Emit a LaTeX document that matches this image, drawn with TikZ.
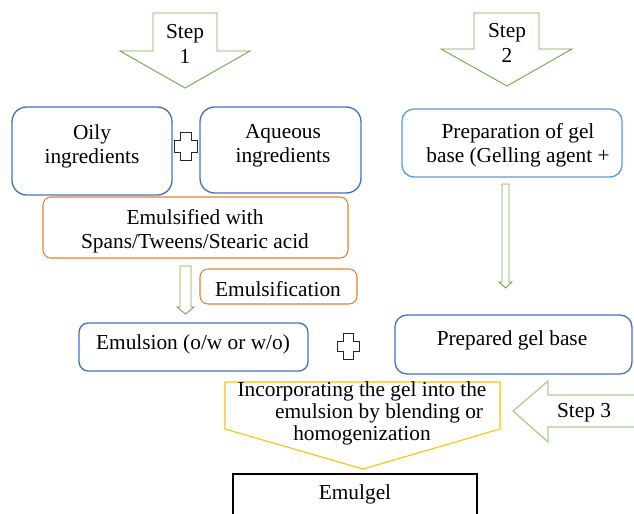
\documentclass[tikz,border=0pt]{standalone}
\usepackage{fontspec}
\setmainfont{Liberation Serif}
\usetikzlibrary{fit}
\definecolor{cblue}{HTML}{4472C4}
\definecolor{clblue}{HTML}{5B9BD5}
\definecolor{corange}{HTML}{ED7D31}
\definecolor{cgreen}{HTML}{70AD47}
\definecolor{clgreen}{HTML}{A9D18E}
\definecolor{cyellow}{HTML}{FFC000}
\tikzset{
  every node/.style={font=\fontsize{16}{18}\selectfont, align=center},
  box/.style={draw=cblue, line width=1pt, rounded corners=7pt, inner sep=0pt},
  lbox/.style={draw=clblue, line width=1pt, rounded corners=7pt, inner sep=0pt},
  obox/.style={draw=corange, line width=0.8pt, rounded corners=6pt, inner sep=0pt},
  kbox/.style={draw=black, line width=1pt, inner sep=0pt},
  garrow/.style={draw=cgreen, line width=0.7pt, fill=white},
  lgarrow/.style={draw=clgreen, line width=1pt, fill=white},
  yarrow/.style={draw=cyellow, line width=0.8pt},
  plus/.style={draw=black!85, line width=0.5pt},
  txt/.style={inner sep=0pt}
}
\begin{document}
\begin{tikzpicture}[x=0.75pt,y=-0.75pt]
\useasboundingbox (0,0) rectangle (634,513);
\clip (0,0) rectangle (634,513);

% Step 1 and Step 2 arrows
\draw[garrow] (153,13) -- (217,13) -- (217,51) -- (250,51) -- (185,88) -- (120,51) -- (153,51) -- cycle;
\node[txt, font=\fontsize{16}{19}\selectfont] (s1) at (185,44) {Step\\1};
\draw[garrow] (474,13) -- (539,13) -- (539,49) -- (572,49) -- (507,86) -- (441,49) -- (474,49) -- cycle;
\node[txt, font=\fontsize{16}{19}\selectfont] (s2) at (507,43) {Step\\2};

% top boxes
\node[box, rounded corners=11pt, fit={(12,107) (172,195)}] (oily) {};
\node[txt] (oilyt) at (92,146) {Oily\\ingredients};
\node[box, rounded corners=11pt, fit={(200,107) (361,193)}] (aq) {};
\node[txt] (aqt) at (283,146) {Aqueous\\ingredients};
\draw[plus] (180,132) -- (191,132) -- (191,140) -- (197,140) -- (197,152) -- (191,152) -- (191,160) -- (180,160) -- (180,152) -- (174,152) -- (174,140) -- (180,140) -- cycle;

\node[lbox, rounded corners=9pt, fit={(402,109) (622,177)}] (gel) {};
\node[txt] (gelt) at (518,145) {Preparation of gel\\base (Gelling agent +};

\node[obox, fit={(43,197) (348,258)}] (emf) {};
\node[txt] (emft) at (195,231) {Emulsified with\\Spans/Tweens/Stearic acid};

% small arrow
\draw[garrow] (180,266) -- (191,266) -- (191,307) -- (194,307) -- (185.5,314) -- (177,307) -- (180,307) -- cycle;
\node[obox, fit={(200,269) (357,304)}] (emfc) {};
\node[txt] (emfct) at (278,289) {Emulsification};

% gel arrow
\draw[garrow] (502,184) -- (509,184) -- (509,282) -- (512,282) -- (505.5,288) -- (499,282) -- (502,282) -- cycle;

% emulsion row
\node[box, fit={(79,323) (308,371)}] (emu) {};
\node[txt] (emut) at (193,344) {Emulsion (o/w or w/o)};
\draw[plus] (343,333) -- (353,333) -- (353,341) -- (359,341) -- (359,351) -- (353,351) -- (353,359) -- (343,359) -- (343,351) -- (337,351) -- (337,341) -- (343,341) -- cycle;
\node[box, rounded corners=9pt, fit={(395,315) (632,374)}] (pgb) {};
\node[txt] (pgbt) at (512,340) {Prepared gel base};

% incorporating pentagon
\draw[yarrow] (225,382) -- (500,382) -- (500,429) -- (363,469) -- (225,429) -- cycle;
\node[txt, font=\fontsize{16}{16.5}\selectfont] (inc) at (362,413) {Incorporating the gel into the\\\hspace*{1.6em}emulsion by blending or\\homogenization};

% step 3 arrow
\draw[lgarrow] (645,395) -- (548,395) -- (548,381) -- (513,411) -- (548,442) -- (548,427) -- (645,427);
\node[txt] (s3) at (584,413) {Step 3};

% emulgel
\node[kbox, fit={(233,474) (477,530)}] (emg) {};
\node[txt] (emgt) at (355,494) {Emulgel};
\end{tikzpicture}
\end{document}
